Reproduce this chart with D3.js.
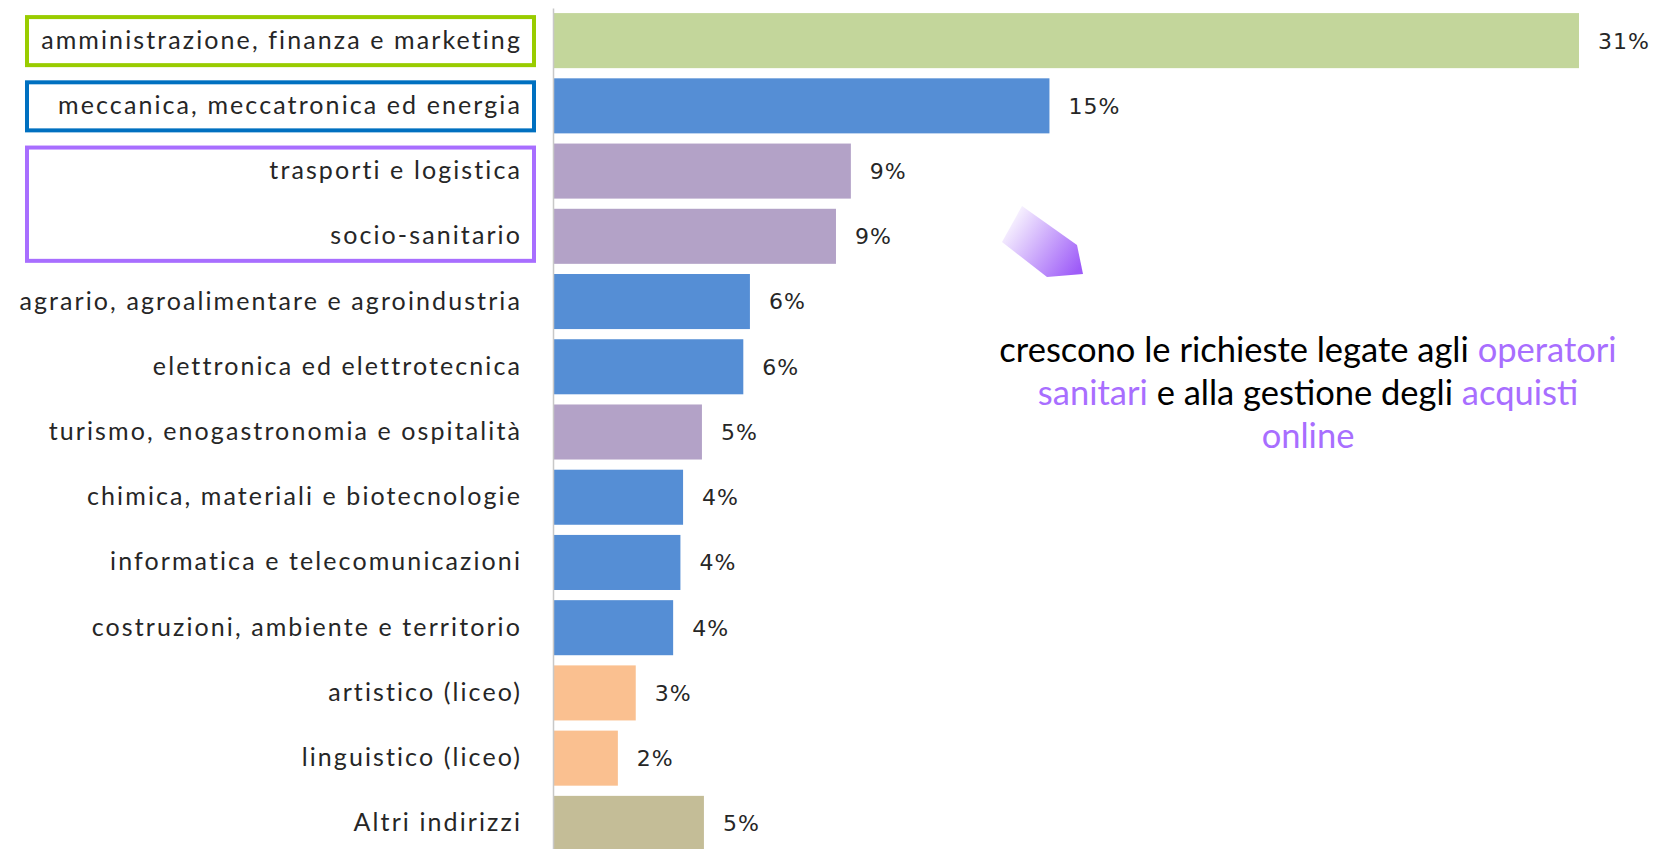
<!DOCTYPE html>
<html lang="it">
<head>
<meta charset="utf-8">
<title>Indirizzi di studio richiesti</title>
<script src="https://d3js.org/d3.v7.min.js"></script>
<style>
  body { margin: 0; background: #fff; }
  svg { display: block; }
</style>
</head>
<body>
<script>
// data (share of requests, %)
const categories = [
  "amministrazione, finanza e marketing",
  "meccanica, meccatronica ed energia",
  "trasporti e logistica",
  "socio-sanitario",
  "agrario, agroalimentare e agroindustria",
  "elettronica ed elettrotecnica",
  "turismo, enogastronomia e ospitalità",
  "chimica, materiali e biotecnologie",
  "informatica e telecomunicazioni",
  "costruzioni, ambiente e territorio",
  "artistico (liceo)",
  "linguistico (liceo)",
  "Altri indirizzi"
];
const values = [31, 15, 9.0, 8.55, 5.95, 5.75, 4.5, 3.93, 3.85, 3.63, 2.5, 1.96, 4.56];
const valueLabels = ["31%", "15%", "9%", "9%", "6%", "6%", "5%", "4%", "4%", "4%", "3%", "2%", "5%"];
const groups = ["amm", "tec", "soc", "soc", "tec", "tec", "soc", "tec", "tec", "tec", "lic", "lic", "alt"];

// highlighted groups of labels
const boxes = [
  {from: 0, to: 0, color: "#99CC00"},
  {from: 1, to: 1, color: "#0070C0"},
  {from: 2, to: 3, color: "#A86EFF"}
];

const noteLines = [
  [["crescono le richieste legate agli ", false], ["operatori", true]],
  [["sanitari", true], [" e alla gestione degli ", false], ["acquisti", true]],
  [["online", true]]
];

const width = 1658, height = 849;
const axisX = 553;

const colors = {
  amm: "#C3D69B",
  tec: "#558ED5",
  soc: "#B3A2C7",
  lic: "#FAC090",
  alt: "#C4BD97"
};

const svg = d3.select("body").append("svg")
  .attr("width", width)
  .attr("height", height);

const x = d3.scaleLinear()
  .domain([0, 31])
  .range([axisX, 1579]);

const y = d3.scaleBand()
  .domain(categories)
  .range([8, 856])
  .paddingInner(0.156)
  .paddingOuter(0.078);

// bars
svg.selectAll("rect.bar")
  .data(categories)
  .enter()
  .append("rect")
  .attr("class", "bar")
  .attr("x", x(0))
  .attr("y", d => y(d))
  .attr("width", (d, i) => x(values[i]) - x(0))
  .attr("height", y.bandwidth())
  .attr("fill", (d, i) => colors[groups[i]]);

// category axis
const leftAxis = d3.axisLeft(y).tickSize(0).tickPadding(31);
const gAxis = svg.append("g")
  .attr("transform", "translate(" + axisX + ",0)")
  .call(leftAxis);
gAxis.select(".domain").attr("stroke", "#C8C8C8").attr("stroke-width", 1.5);
gAxis.selectAll("text")
  .attr("fill", "#262626")
  .style("font-family", "Lato, 'Open Sans', sans-serif")
  .style("font-size", "25px")
  .style("letter-spacing", "2.1px");

// value labels
svg.selectAll("text.val")
  .data(categories)
  .enter()
  .append("text")
  .attr("class", "val")
  .attr("x", (d, i) => x(values[i]) + 19)
  .attr("y", d => y(d) + y.bandwidth() / 2)
  .attr("dy", "0.36em")
  .attr("fill", "#262626")
  .style("font-family", "'DejaVu Sans', Verdana, sans-serif")
  .style("font-size", "22px")
  .style("letter-spacing", "1px")
  .text((d, i) => valueLabels[i]);

// coloured frames around highlighted labels
svg.selectAll("rect.box")
  .data(boxes)
  .enter()
  .append("rect")
  .attr("class", "box")
  .attr("x", 27)
  .attr("y", d => y(categories[d.from]) + 4)
  .attr("width", 507)
  .attr("height", d => y(categories[d.to]) + y.bandwidth() - y(categories[d.from]) - 7)
  .attr("fill", "none")
  .attr("stroke", d => d.color)
  .attr("stroke-width", 4);

// arrow with gradient
const defs = svg.append("defs");
const grad = defs.append("linearGradient")
  .attr("id", "arrowGrad")
  .attr("x1", "0").attr("y1", "0.2")
  .attr("x2", "1").attr("y2", "0.8");
grad.append("stop").attr("offset", "0").attr("stop-color", "#ffffff");
grad.append("stop").attr("offset", "1").attr("stop-color", "#9E5CF8");

svg.append("polygon")
  .attr("points", "1002,242 1022,206 1077,245 1083,274 1047,277")
  .attr("fill", "url(#arrowGrad)");

// note text
const note = svg.append("text")
  .attr("x", 1308)
  .attr("y", 362)
  .attr("text-anchor", "middle")
  .style("font-family", "Lato, 'Open Sans', sans-serif")
  .style("font-size", "34.5px");

noteLines.forEach((line, li) => {
  line.forEach((part, pi) => {
    const t = note.append("tspan")
      .attr("fill", part[1] ? "#A86EFF" : "#000")
      .text(part[0]);
    if (pi === 0) t.attr("x", 1308).attr("dy", li === 0 ? 0 : 43);
  });
});
</script>
</body>
</html>
